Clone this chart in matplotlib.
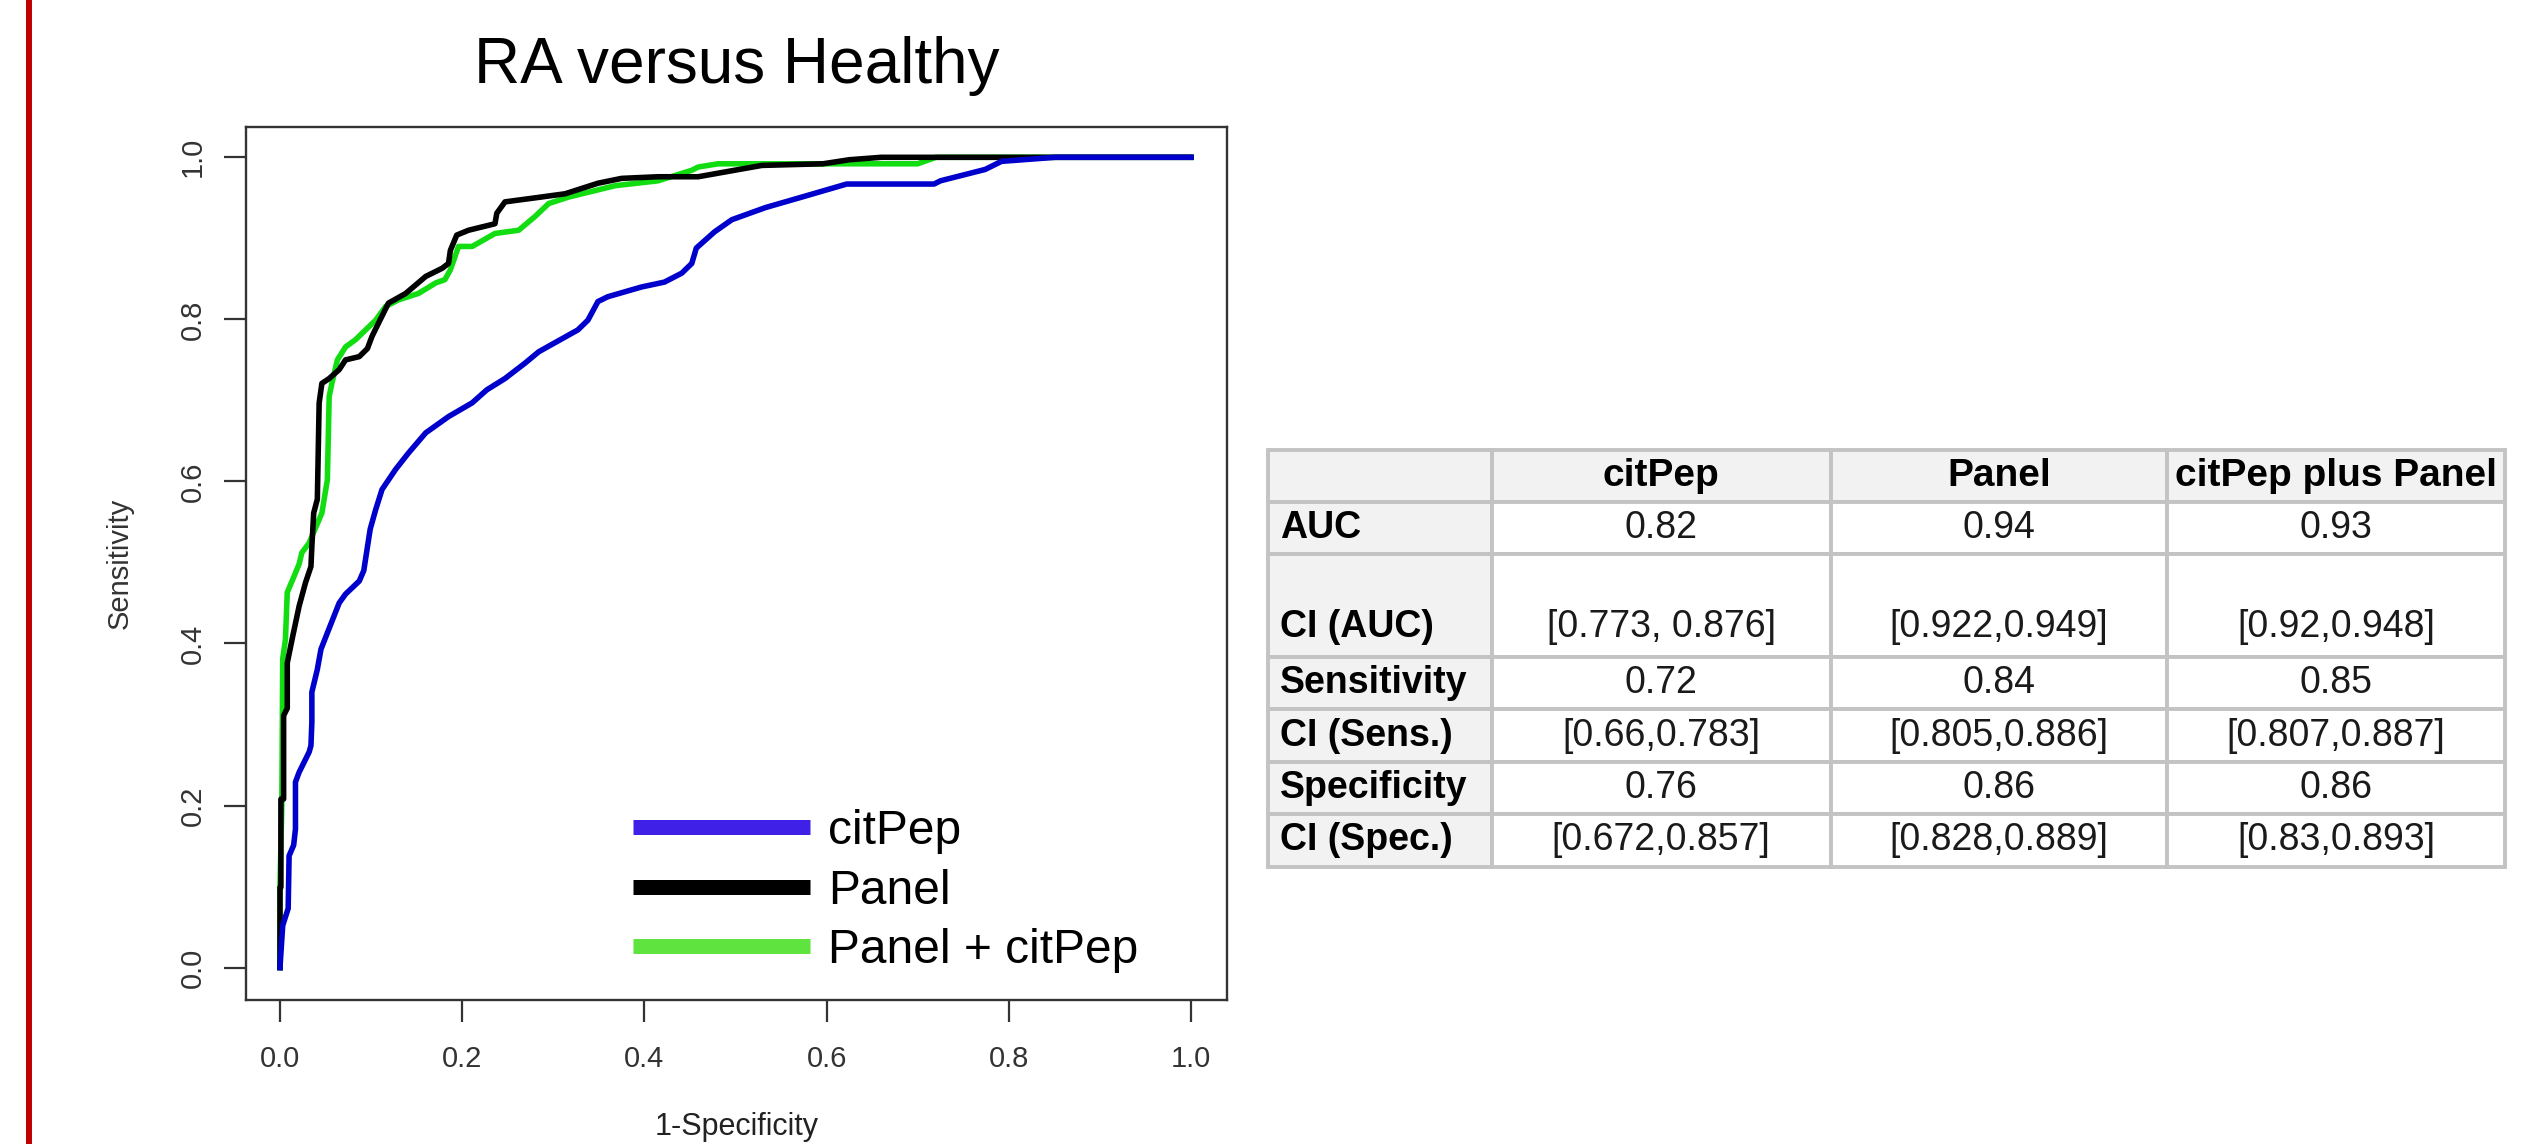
import matplotlib
matplotlib.use("Agg")
import matplotlib.pyplot as plt
from matplotlib.lines import Line2D

plt.rcParams['font.family'] = ['Liberation Sans', 'DejaVu Sans']

# ---------------- data ----------------
title = "RA versus Healthy"
x_label = "1-Specificity"
y_label = "Sensitivity"
tick_values = [0.0, 0.2, 0.4, 0.6, 0.8, 1.0]
tick_labels = ["0.0", "0.2", "0.4", "0.6", "0.8", "1.0"]

series_names = ["citPep", "Panel", "Panel + citPep"]

citpep_fpr = [0.0, 0.003, 0.009, 0.010, 0.015, 0.017, 0.017, 0.021, 0.032, 0.034,
              0.035, 0.035, 0.041, 0.045, 0.052, 0.065, 0.072, 0.087, 0.092, 0.099,
              0.105, 0.112, 0.127, 0.141, 0.160, 0.185, 0.211, 0.227, 0.247, 0.269,
              0.284, 0.327, 0.338, 0.349, 0.360, 0.397, 0.422, 0.441, 0.452, 0.457,
              0.477, 0.496, 0.533, 0.570, 0.622, 0.718, 0.725, 0.774, 0.792, 0.851, 1.0]
citpep_tpr = [0.0, 0.052, 0.073, 0.138, 0.151, 0.171, 0.229, 0.241, 0.266, 0.274,
              0.303, 0.340, 0.368, 0.393, 0.413, 0.450, 0.461, 0.477, 0.490, 0.541,
              0.565, 0.590, 0.615, 0.635, 0.660, 0.680, 0.697, 0.713, 0.727, 0.746,
              0.760, 0.787, 0.799, 0.822, 0.828, 0.840, 0.846, 0.857, 0.869, 0.888,
              0.908, 0.923, 0.938, 0.950, 0.967, 0.967, 0.971, 0.985, 0.995, 1.0, 1.0]

panel_fpr = [0.0, 0.0, 0.0, 0.001, 0.001, 0.004, 0.004, 0.008, 0.008, 0.014,
             0.021, 0.028, 0.034, 0.035, 0.037, 0.041, 0.043, 0.046, 0.054, 0.065,
             0.072, 0.087, 0.096, 0.101, 0.108, 0.119, 0.138, 0.160, 0.178, 0.185,
             0.187, 0.194, 0.207, 0.236, 0.238, 0.247, 0.287, 0.313, 0.349, 0.375,
             0.415, 0.459, 0.529, 0.596, 0.625, 0.660, 1.0]
panel_tpr = [0.0, 0.056, 0.099, 0.099, 0.208, 0.208, 0.311, 0.320, 0.376, 0.409,
             0.446, 0.475, 0.495, 0.520, 0.561, 0.578, 0.697, 0.721, 0.727, 0.738,
             0.750, 0.754, 0.764, 0.779, 0.795, 0.820, 0.832, 0.853, 0.863, 0.869,
             0.885, 0.904, 0.910, 0.918, 0.931, 0.945, 0.951, 0.955, 0.968, 0.974,
             0.976, 0.976, 0.990, 0.992, 0.997, 1.0, 1.0]

combo_fpr = [0.0, 0.0, 0.002, 0.003, 0.006, 0.008, 0.014, 0.021, 0.024, 0.032,
             0.046, 0.052, 0.054, 0.057, 0.063, 0.072, 0.083, 0.105, 0.116, 0.130,
             0.152, 0.171, 0.181, 0.187, 0.196, 0.211, 0.236, 0.262, 0.280, 0.295,
             0.317, 0.368, 0.415, 0.452, 0.459, 0.481, 0.700, 0.720, 1.0]
combo_tpr = [0.0, 0.100, 0.200, 0.381, 0.405, 0.463, 0.479, 0.498, 0.512, 0.524,
             0.561, 0.602, 0.705, 0.721, 0.750, 0.766, 0.775, 0.799, 0.816, 0.824,
             0.832, 0.845, 0.849, 0.861, 0.890, 0.890, 0.906, 0.910, 0.927, 0.943,
             0.951, 0.965, 0.971, 0.984, 0.988, 0.992, 0.992, 1.0, 1.0]

table_header = ["", "citPep", "Panel", "citPep plus Panel"]
row_labels = ["AUC", "\nCI (AUC)", "Sensitivity", "CI (Sens.)", "Specificity", "CI (Spec.)"]
auc_vals = ["0.82", "0.94", "0.93"]
ci_auc_vals = ["\n[0.773, 0.876]", "\n[0.922,0.949]", "\n[0.92,0.948]"]
sens_vals = ["0.72", "0.84", "0.85"]
ci_sens_vals = ["[0.66,0.783]", "[0.805,0.886]", "[0.807,0.887]"]
spec_vals = ["0.76", "0.86", "0.86"]
ci_spec_vals = ["[0.672,0.857]", "[0.828,0.889]", "[0.83,0.893]"]

# ---------------- styles ----------------
W, H = 2543, 1144
line_colors = ["#0000CC", "#000000", "#11DD11"]
legend_colors = ["#3F20E6", "#000000", "#5FE33F"]

fig = plt.figure(figsize=(W / 100, H / 100), dpi=100)
fig.patch.set_facecolor("white")

# red margin line
fig.add_artist(Line2D([29 / W, 29 / W], [0, 1], transform=fig.transFigure,
                      color="#C00000", lw=4.3))

ax_l, ax_r, ax_t, ax_b = 246, 1227, 127, 1000
ax_h = ax_b - ax_t
ax_w = ax_r - ax_l
ax = fig.add_axes([ax_l / W, 1 - ax_b / H, ax_w / W, ax_h / H])
ax.set_xlim(-0.0373, 1.0395)
ax.set_ylim(-0.040, 1.0374)

lw = 4.0
ax.plot(combo_fpr, combo_tpr, color=line_colors[2], lw=lw, zorder=2,
        solid_joinstyle="round")
ax.plot(panel_fpr, panel_tpr, color=line_colors[1], lw=lw, zorder=3,
        solid_joinstyle="round")
ax.plot(citpep_fpr, citpep_tpr, color=line_colors[0], lw=lw, zorder=4,
        solid_joinstyle="round")

ax.set_xticks(tick_values)
ax.set_xticklabels(tick_labels)
ax.set_yticks(tick_values)
ax.set_yticklabels(tick_labels, rotation=90, va="center")
ax.tick_params(axis="both", length=15.5, width=1.6, labelsize=21,
               labelcolor="#333333", color="#333333")
ax.tick_params(axis="x", pad=17)
ax.tick_params(axis="y", pad=13)
for sp in ax.spines.values():
    sp.set_linewidth(1.7)
    sp.set_color("#333333")

ax.set_title(title, fontsize=46, y=1 + (ax_t - 83) / ax_h, va="baseline", pad=0)
ax.set_xlabel(x_label, fontsize=22, va="center", color="#222222")
ax.xaxis.set_label_coords(0.5, -(1127 - ax_b) / ax_h)
ax.set_ylabel(y_label, fontsize=21, va="center", color="#333333")
ax.yaxis.set_label_coords((120 - ax_l) / ax_w, 0.5)

handles = [Line2D([], [], color=c, lw=10.8, solid_capstyle="butt") for c in legend_colors]
ax.legend(handles, series_names, loc="center left",
          bbox_to_anchor=((633 - ax_l) / ax_w, (ax_b - 891) / ax_h),
          frameon=False, fontsize=34.5, handlelength=3.7, handletextpad=0.375,
          labelspacing=0.3, borderpad=0, borderaxespad=0)

# ---------------- table ----------------
t_l, t_r, t_t, t_b = 1268, 2505, 450, 867
tax = fig.add_axes([t_l / W, 1 - t_b / H, (t_r - t_l) / W, (t_b - t_t) / H])
tax.axis("off")

data_rows = [auc_vals, ci_auc_vals, sens_vals, ci_sens_vals, spec_vals, ci_spec_vals]
cell_text = [table_header] + [[lab] + vals for lab, vals in zip(row_labels, data_rows)]
col_px = [223.5, 339.5, 336, 338]
col_widths = [c / sum(col_px) for c in col_px]
row_px = [52, 52, 103, 52, 53, 52, 53]

tbl = tax.table(cellText=cell_text, colWidths=col_widths, cellLoc="center",
                bbox=[0, 0, 1, 1])
tbl.auto_set_font_size(False)
tbl.set_fontsize(27)
for (r, c), cell in tbl.get_celld().items():
    cell.set_height(row_px[r] / sum(row_px))
    cell.set_edgecolor("#C3C3C3")
    cell.set_linewidth(2.8)
    txt = cell.get_text()
    if r == 0 or c == 0:
        cell.set_facecolor("#F2F2F2")
        txt.set_fontweight("bold")
        txt.set_color("black")
    else:
        cell.set_facecolor("white")
        txt.set_color("#1A1A1A")
    if r == 0:
        txt.set_fontsize(28)
    if c == 0:
        txt.set_horizontalalignment("left")
        cell.PAD = 12 / col_px[0]
    txt.set_linespacing(1.25)

fig.savefig("out.png", dpi=100, facecolor="white")
